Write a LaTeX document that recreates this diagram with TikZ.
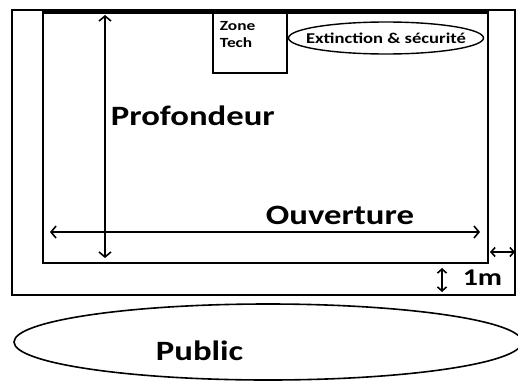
\documentclass[tikz,border=0pt]{standalone}
\usepackage{fontspec}
\setmainfont{Carlito}[FakeStretch=1.24]
\usetikzlibrary{arrows.meta}
\usetikzlibrary{shapes.geometric}

\tikzset{
  cote/.style={line width=1.6pt, {Straight Barb[length=5pt,width=12pt]}-{Straight Barb[length=5pt,width=12pt]}},
  petitecote/.style={line width=1.6pt, {Straight Barb[length=4pt,width=9pt]}-{Straight Barb[length=4pt,width=9pt]}},
  titre/.style={font=\bfseries\fontsize{28}{33}\selectfont, inner sep=0pt}
}

\begin{document}
\begin{tikzpicture}[x=1pt, y=-1pt, line width=1.8pt]
    \useasboundingbox (0,0) rectangle (518,380);

    % plateau et scene
    \draw (12,10) rectangle (515,295);
    \draw (43,12) rectangle (488,263);
    \draw[line width=3.5pt] (43,12) -- (488,12);

    % zones du fond
    \draw[line width=1.4pt] (213,13) rectangle (287,73);
    \node[anchor=north west, align=left, inner sep=0pt, font=\bfseries\fontsize{14}{17}\selectfont] (tech) at (219,21) {Zone\\Tech};
    \node[shape=ellipse, draw, line width=1.4pt, minimum width=195pt, minimum height=32pt] (secu) at (386,38) {};
    \node[inner sep=0pt, font=\bfseries\fontsize{15}{18}\selectfont] (secutxt) at (secu.center) {Extinction \& sécurité};

    % cotes
    \coordinate (P1) at (105,15);
    \coordinate (P2) at (105,258);
    \coordinate (O1) at (50,232);
    \coordinate (O2) at (480,232);
    \coordinate (M1) at (490,252);
    \coordinate (M2) at (515,252);
    \coordinate (M3) at (442,268);
    \coordinate (M4) at (442,292);

    \draw[cote] (P1) -- (P2);
    \draw[cote] (O1) -- (O2);
    \draw[petitecote] (M1) -- (M2);
    \draw[petitecote] (M3) -- (M4);

    \node[titre, anchor=west] (prof) at (110,116) {Profondeur};
    \node[titre, anchor=west] (ouv) at (265,215) {Ouverture};
    \node[titre, anchor=west, font=\bfseries\fontsize{24}{28}\selectfont] (metre) at (462,278) {1m};

    % public
    \node[shape=ellipse, draw, line width=1.6pt, minimum width=508pt, minimum height=76pt] (salle) at (268,342) {};
    \node[titre, anchor=west] (public) at (155,351) {Public};

\end{tikzpicture}
\end{document}
